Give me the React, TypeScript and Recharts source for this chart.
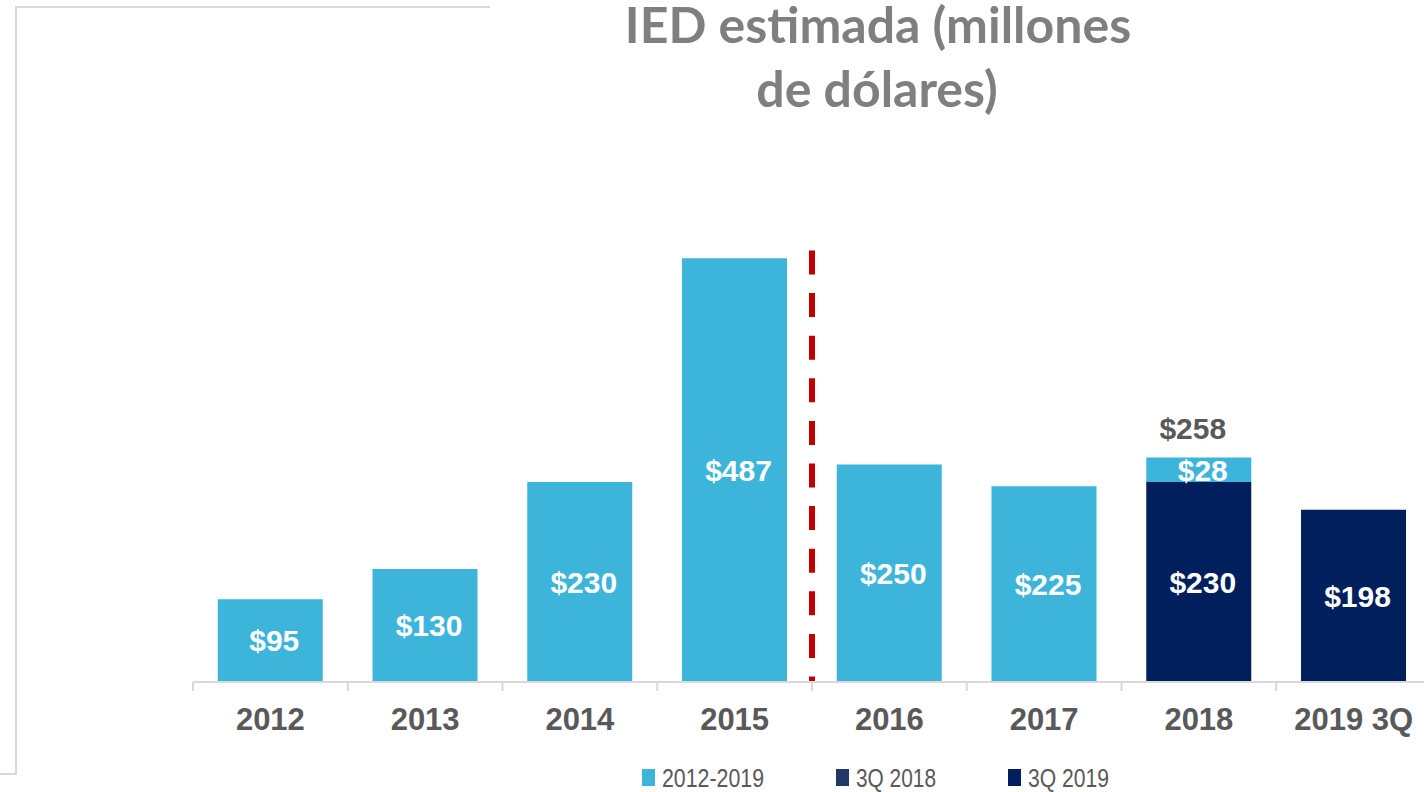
import React from 'react';
import { BarChart, Bar, XAxis, YAxis, ReferenceLine, LabelList } from 'recharts';

const categories = ['2012', '2013', '2014', '2015', '2016', '2017', '2018', '2019 3Q'];
const ied2012to2019 = [95, 130, 230, 487, 250, 225, 28, null];
const ied3Q2018 = [null, null, null, null, null, null, 230, null];
const ied3Q2019 = [null, null, null, null, null, null, null, 198];
const seriesNames = ['2012-2019', '3Q 2018', '3Q 2019'];
const titleLines = ['IED estimada (millones', 'de dólares)'];
const splitCategory = '2016';

const data = categories.map((name, i) => ({
  name,
  a: ied2012to2019[i],
  b: ied3Q2018[i],
  c: ied3Q2019[i],
  total: (ied2012to2019[i] ?? 0) + (ied3Q2018[i] ?? 0) + (ied3Q2019[i] ?? 0),
}));

const CHART_W = 1440;
const CHART_H = 792;
const M = { top: 247, right: 9, bottom: 50, left: 193 };
const BAND = (CHART_W - M.left - M.right) / categories.length;

const LIGHT = '#3DB5DB';
const NAVY = '#001F5C';
const NAVY2 = '#1F3864';
const ARIAL = '"Liberation Sans", Arial, sans-serif';

const Tick = (props: any) => {
  const { x, y, payload, index } = props;
  const left = x - BAND / 2;
  return (
    <g>
      <line x1={left} x2={left} y1={y} y2={y + 9} stroke="#D9D9D9" strokeWidth={2} />
      {index === categories.length - 1 && (
        <line x1={x + BAND / 2} x2={x + BAND / 2} y1={y} y2={y + 9} stroke="#D9D9D9" strokeWidth={2} />
      )}
      <text x={x} y={y + 48} textAnchor="middle" fill="#595959" fontFamily={ARIAL} fontWeight="bold" fontSize={31}>
        {payload.value}
      </text>
    </g>
  );
};

const centerLabel = (props: any) => {
  const { x, y, width, height, value } = props;
  if (value == null || !height) return null;
  return (
    <text
      x={x + width / 2 + 4}
      y={y + height / 2}
      dy="0.36em"
      textAnchor="middle"
      fill="#FFFFFF"
      fontFamily={ARIAL}
      fontWeight="bold"
      fontSize={30}
    >
      {`$${value}`}
    </text>
  );
};

const topLabel = (props: any) => {
  const { x, y, width, height, value, index } = props;
  if (value == null || !height) return null;
  const total = data[index]?.total;
  return (
    <g>
      {centerLabel(props)}
      {total != null && total !== value && (
        <text
          x={x + width / 2 - 6}
          y={y - 29}
          dy="0.36em"
          textAnchor="middle"
          fill="#595959"
          fontFamily={ARIAL}
          fontWeight="bold"
          fontSize={30}
        >
          {`$${total}`}
        </text>
      )}
    </g>
  );
};

const legendItems = [
  { name: seriesNames[0], color: LIGHT, x: 642, len: 102 },
  { name: seriesNames[1], color: NAVY2, x: 836, len: 80 },
  { name: seriesNames[2], color: NAVY, x: 1008, len: 81 },
];

export default function App() {
  return (
    <div style={{ position: 'fixed', left: 0, top: 0, width: 1424, height: 792, overflow: 'hidden', background: '#fff' }}>
      <div style={{ position: 'absolute', left: 0, top: 0 }}>
        <BarChart width={CHART_W} height={CHART_H} data={data} margin={M} barCategoryGap="16%">
          <XAxis
            dataKey="name"
            height={60}
            axisLine={{ stroke: '#D9D9D9', strokeWidth: 2 }}
            tickLine={false}
            tickSize={0}
            tickMargin={0}
            interval={0}
            tick={<Tick />}
          />
          <YAxis hide domain={[0, 500]} />
          <ReferenceLine
            segment={[{ x: splitCategory, y: 496 }, { x: splitCategory, y: 0 }]}
            position="start"
            stroke="#C00000"
            strokeWidth={6}
            strokeDasharray="24 18.6"
            ifOverflow="visible"
          />
          <Bar dataKey="b" name={seriesNames[1]} stackId="s" fill={NAVY} isAnimationActive={false}>
            <LabelList dataKey="b" content={centerLabel} />
          </Bar>
          <Bar dataKey="c" name={seriesNames[2]} stackId="s" fill={NAVY} isAnimationActive={false}>
            <LabelList dataKey="c" content={centerLabel} />
          </Bar>
          <Bar dataKey="a" name={seriesNames[0]} stackId="s" fill={LIGHT} isAnimationActive={false}>
            <LabelList dataKey="a" content={topLabel} />
          </Bar>
        </BarChart>
      </div>
      <svg width={1424} height={792} style={{ position: 'absolute', left: 0, top: 0, pointerEvents: 'none' }}>
        <line x1={15} y1={7} x2={490} y2={7} stroke="#D9D9D9" strokeWidth={2} />
        <line x1={16} y1={6} x2={16} y2={774} stroke="#D9D9D9" strokeWidth={2} />
        <line x1={0} y1={774} x2={17} y2={774} stroke="#D9D9D9" strokeWidth={2} />
        <text x={878} y={43} textAnchor="middle" fill="#7F7F7F" fontFamily="Lato, sans-serif" fontWeight="bold" fontSize={50}>
          {titleLines[0]}
        </text>
        <text x={877} y={107} textAnchor="middle" fill="#7F7F7F" fontFamily="Lato, sans-serif" fontWeight="bold" fontSize={50}>
          {titleLines[1]}
        </text>
        {legendItems.map((it) => (
          <g key={it.name}>
            <rect x={it.x} y={769} width={13} height={17} fill={it.color} />
            <text
              x={it.x + 20}
              y={787}
              fill="#595959"
              fontFamily={ARIAL}
              fontSize={26}
              textLength={it.len}
              lengthAdjust="spacingAndGlyphs"
            >
              {it.name}
            </text>
          </g>
        ))}
      </svg>
    </div>
  );
}
